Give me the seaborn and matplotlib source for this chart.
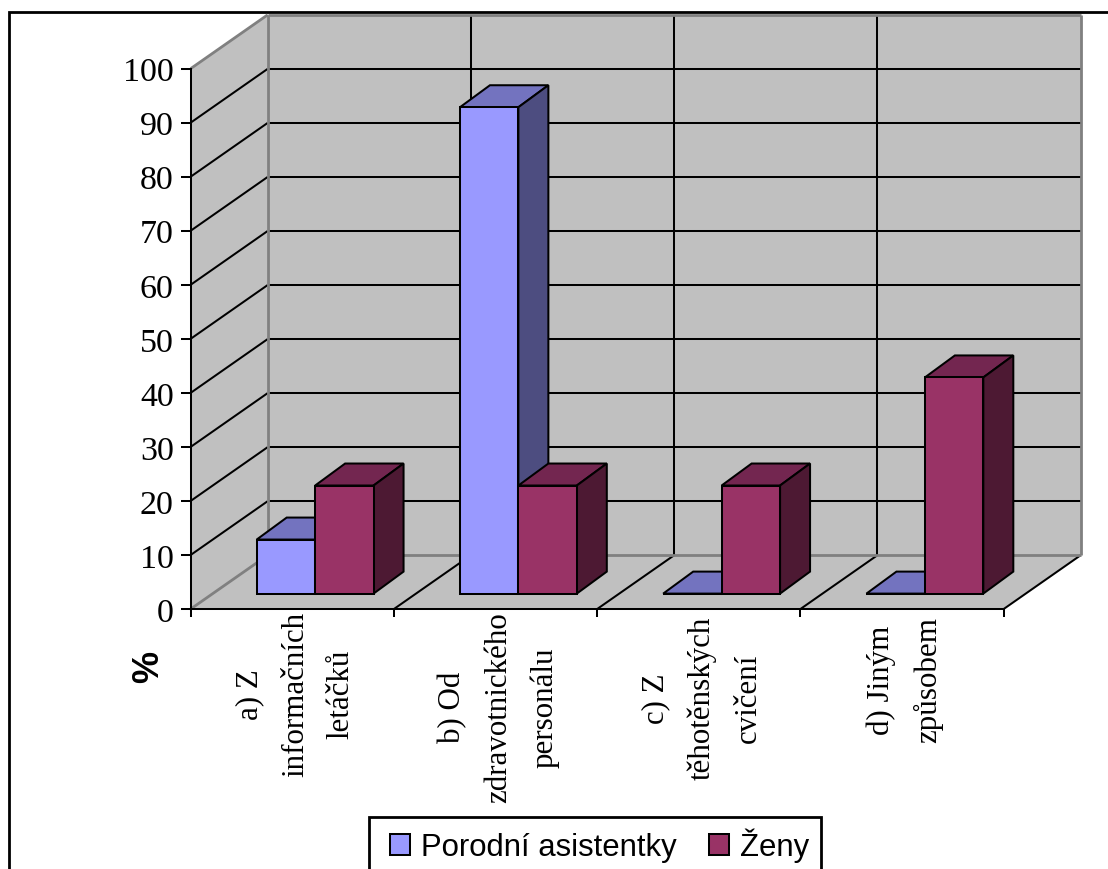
import pandas as pd
import seaborn as sns
import matplotlib
matplotlib.use("Agg")
import matplotlib.pyplot as plt
from matplotlib.patches import Polygon, Rectangle

categories = ["a) Z\ninformačních\nletáčků", "b) Od\nzdravotnického\npersonálu",
              "c) Z\ntěhotěnských\ncvičení", "d) Jiným\nzpůsobem"]
midwives = [10, 90, 0, 0]
women = [20, 20, 20, 40]
series_names = ["Porodní asistentky", "Ženy"]
y_ticks = list(range(0, 101, 10))

BLUE, RED = "#9999FF", "#993366"
BLUE_TOP, RED_TOP = "#7373BF", "#732650"
BLUE_SIDE, RED_SIDE = "#4D4D80", "#4D1933"
WALL = "#C0C0C0"
EDGE = "#808080"
LINE = 1.45

W, H = 1108, 870
SERIF = "Liberation Serif"
SANS = "Liberation Sans"

sns.set_theme(style="white")
fig = plt.figure(figsize=(W / 100, H / 100), dpi=100)


def axes_at(left, top, right, bottom, **kw):
    """Create axes from pixel edges measured from the top-left corner."""
    return fig.add_axes([left / W, 1 - bottom / H, (right - left) / W, (bottom - top) / H], **kw)


# Outer chart frame, running off the page at the right and bottom
fig.add_artist(Rectangle((9 / W, -0.01), 1.02, 1.01 - 13.3 / H, transform=fig.transFigure,
                         facecolor="white", edgecolor="black", linewidth=2, zorder=-1))

# Front plane of the chart box: carries the value axis and the category ticks
frame = axes_at(190.7, 69.6, 1003.7, 610, facecolor="none")
frame.set_xlim(0, 4)
frame.set_ylim(0, 100)
UNIT_X, UNIT_Y = 813 / 4, 5.404
DX, DY = 77 / UNIT_X, 53.8 / UNIT_Y  # box depth in data units


def wall(xs, ys, depth, color):
    pts = [(x + d * DX, y + d * DY) for x, y, d in zip(xs, ys, depth)]
    frame.add_patch(Polygon(pts, closed=True, facecolor=color, edgecolor="none",
                            clip_on=False, zorder=1))


def segment(p, q, color="black", lw=LINE):
    frame.plot([p[0] + p[2] * DX, q[0] + q[2] * DX], [p[1] + p[2] * DY, q[1] + q[2] * DY],
               color=color, linewidth=lw, clip_on=False, solid_capstyle="butt", zorder=2)


wall([0, 0, 0, 0], [0, 100, 100, 0], [0, 0, 1, 1], WALL)      # left side wall
wall([0, 4, 4, 0], [0, 0, 100, 100], [1, 1, 1, 1], WALL)      # back wall
wall([0, 4, 4, 0], [0, 0, 0, 0], [0, 0, 1, 1], WALL)          # floor

for v in y_ticks[1:-1]:
    segment((0, v, 0), (0, v, 1))
    segment((0, v, 1), (4, v, 1))
for c in range(1, 4):
    segment((c, 0, 1), (c, 100, 1))
    segment((c, 0, 0), (c, 0, 1))
segment((4, 0, 0), (4, 0, 1))

# Grey outline of the back wall and its joins with the side wall and floor
for start, end in (((0, 0, 0), (0, 0, 1)), ((0, 100, 0), (0, 100, 1)), ((0, 0, 1), (0, 100, 1)),
                   ((0, 100, 1), (4, 100, 1)), ((4, 100, 1), (4, 0, 1)), ((0, 0, 1), (4, 0, 1))):
    segment(start, end, EDGE, 2.0)

for name in ("top", "right"):
    frame.spines[name].set_visible(False)
for name in ("left", "bottom"):
    frame.spines[name].set_color("black")
    frame.spines[name].set_linewidth(LINE)
    frame.spines[name].set_zorder(3)
frame.set_xticks(range(5))
frame.set_xticklabels([])
frame.set_yticks(y_ticks)
frame.tick_params(axis="both", width=LINE, color="black", direction="out", left=True, bottom=True)
frame.tick_params(axis="y", length=7.2, pad=5)
frame.tick_params(axis="x", length=6)
for label in frame.get_yticklabels():
    label.set_fontfamily(SERIF)
    label.set_fontsize(24.5)
    label.set_color("black")

# Bar plane sits a little behind the front plane
bars = axes_at(213.5, 54.2, 1026.5, 594.6, facecolor="none")
table = pd.DataFrame({
    "category": categories * 2,
    "value": midwives + women,
    "series": [series_names[0]] * 4 + [series_names[1]] * 4,
})
sns.barplot(data=table, x="category", y="value", hue="series", hue_order=series_names,
            palette=[BLUE, RED], width=0.575, gap=0, saturation=1, edgecolor="black",
            linewidth=LINE, dodge=True, legend=False, ax=bars, zorder=5)
bars.set_xlim(-0.5, 3.5)
bars.set_ylim(0, 100)
bars.axis("off")

BAR_DX, BAR_DY = 30 / UNIT_X, 22 / UNIT_Y  # bar depth in data units
patches = sorted(bars.patches, key=lambda p: p.get_x())
for i, patch in enumerate(patches):
    x0, w, h = patch.get_x(), patch.get_width(), patch.get_height()
    top, side = (BLUE_TOP, BLUE_SIDE) if i % 2 == 0 else (RED_TOP, RED_SIDE)
    order = 4 + i * 0.5
    patch.set_clip_on(False)
    patch.set_zorder(order + 0.2)
    bars.add_patch(Polygon([(x0, h), (x0 + w, h), (x0 + w + BAR_DX, h + BAR_DY), (x0 + BAR_DX, h + BAR_DY)],
                           closed=True, facecolor=top, edgecolor="black", linewidth=LINE,
                           clip_on=False, zorder=order))
    bars.add_patch(Polygon([(x0 + w, 0), (x0 + w + BAR_DX, BAR_DY), (x0 + w + BAR_DX, h + BAR_DY), (x0 + w, h)],
                           closed=True, facecolor=side, edgecolor="black", linewidth=LINE,
                           clip_on=False, zorder=order))

# Rotated category labels under the floor; the shorter stacks hang a little lower
label_drop = [2, 2, 7, 7]
for c, text in enumerate(categories):
    frame.annotate(text, xy=(c + 0.5, 0), xycoords="data", xytext=(3, -label_drop[c]), textcoords="offset pixels",
                   rotation=90, ha="center", va="top", multialignment="center",
                   fontfamily=SERIF, fontsize=22.3, color="black", linespacing=1.76, annotation_clip=False)

fig.text(149 / W, 1 - 667 / H, "%", rotation=90, ha="center", va="center",
         fontfamily=SANS, fontweight="bold", fontsize=26, color="black")

# Legend box, also cut off by the page edge
fig.add_artist(Rectangle((369 / W, -0.01), (821 - 369) / W, 0.01 + (870 - 818) / H, transform=fig.transFigure,
                         facecolor="white", edgecolor="black", linewidth=2, zorder=4))
handles = [Rectangle((0, 0), 1, 1, facecolor=c, edgecolor="black", linewidth=LINE) for c in (BLUE, RED)]
legend = fig.legend(handles, series_names, loc="lower left", bbox_to_anchor=(376 / W, -0.0086), ncol=2,
                    frameon=False, prop={"family": SANS, "size": 22.4}, handlelength=0.65, handleheight=0.65,
                    handletextpad=0.35, columnspacing=1.03, borderaxespad=0, borderpad=0.45)
for text in legend.get_texts():
    text.set_color("black")

fig.savefig("out.png", dpi=100)
